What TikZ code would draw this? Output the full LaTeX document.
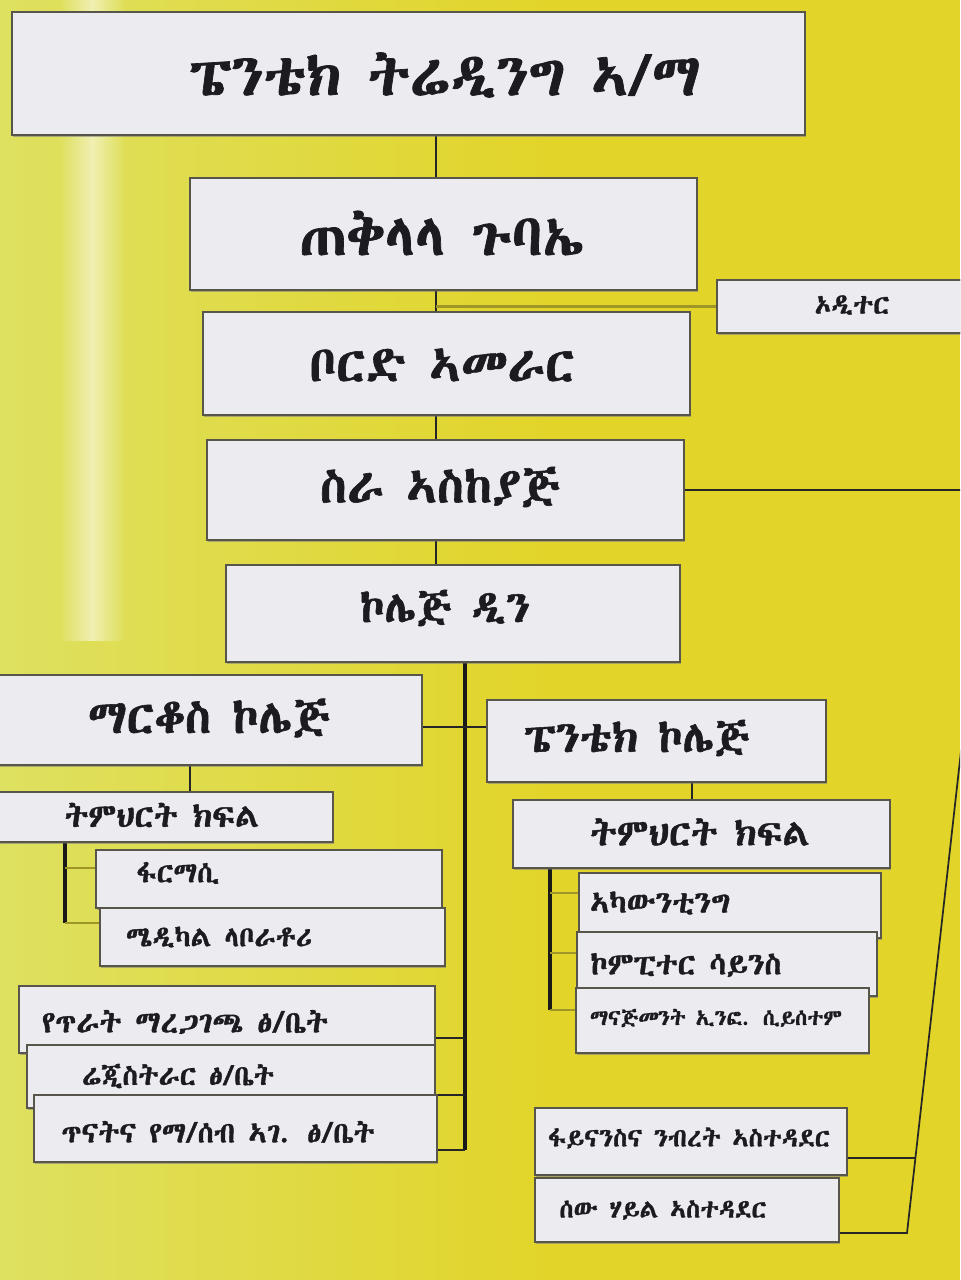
\documentclass[tikz,border=0pt]{standalone}
\usepackage{fontspec}
\usepackage{graphicx}
\IfFontExistsTF{Abyssinica SIL}
  {\newfontfamily\eth{Abyssinica SIL}[FakeBold=1.2]}
  {\IfFontExistsTF{FreeSerif.otf}
    {\newfontfamily\eth{FreeSerif.otf}[FakeBold=1.5]}
    {\newfontfamily\eth{DejaVu Sans}}}
\usetikzlibrary{shadows}
\definecolor{bgy}{RGB}{226,212,40}
\definecolor{bgpale}{RGB}{222,224,96}
\definecolor{boxfill}{RGB}{236,236,240}
\definecolor{boxline}{RGB}{88,86,74}
\definecolor{inkc}{RGB}{28,28,32}
\definecolor{faintl}{RGB}{160,150,40}
\newdimen\pxu \pxu=0.75pt
\newcommand\bx[5]{\node[box,anchor=north west,minimum width={(#4-#2)*0.75pt},minimum height={(#5-#3)*0.75pt}] (#1) at (#2,#3) {};}
\newcommand\tx[5]{\node[lbl] (#1) at (#2,#3) {\resizebox{#4\pxu}{!}{\eth #5}};}
\newcommand\allboxes{%
\bx{top}{12}{12}{805}{135}
\bx{ga}{190}{178}{697}{290}
\bx{board}{203}{312}{690}{415}
\bx{aud}{717}{280}{975}{333}
\bx{ceo}{207}{440}{684}{540}
\bx{dean}{226}{565}{680}{662}
\bx{mark}{-6}{675}{422}{765}
\bx{pcol}{487}{700}{826}{782}
\bx{edl}{-6}{792}{333}{842}
\bx{edr}{513}{800}{890}{868}
\bx{pha}{96}{850}{442}{908}
\bx{med}{100}{908}{445}{966}
\bx{acc}{579}{873}{881}{938}
\bx{comp}{577}{932}{877}{996}
\bx{mis}{576}{988}{869}{1053}
\bx{qa}{19}{986}{435}{1053}
\bx{reg}{27}{1045}{435}{1108}
\bx{res}{34}{1095}{437}{1162}
\bx{fin}{535}{1108}{847}{1175}
\bx{hr}{535}{1178}{839}{1242}}
\begin{document}
\begin{tikzpicture}[x=0.75pt,y=-0.75pt,
  box/.style={draw=boxline,line width=1.3pt,fill=boxfill,inner sep=0pt,outer sep=0pt,
    drop shadow={shadow xshift=0.8pt,shadow yshift=-1.2pt,opacity=0.35}},
  lbl/.style={inner sep=0pt,text=inkc},
  link/.style={draw=black!90,line width=2.6pt},
  thin/.style={draw=black!85,line width=1.3pt},
  faint/.style={draw=faintl,line width=1.6pt}]
\useasboundingbox (0,0) rectangle (960,1280);
\clip (0,0) rectangle (960,1280);
% background
\fill[bgy] (0,0) rectangle (960,1280);
\shade[left color=bgpale,right color=bgy] (0,0) rectangle (560,1280);
\shade[left color=bgpale,right color=white,opacity=0.55] (60,0) rectangle (92,640);
\shade[left color=white,right color=bgpale,opacity=0.55] (92,0) rectangle (124,640);

% named coordinates for connectors
\coordinate (sp) at (436,0);
\coordinate (r1) at (990,490);
\coordinate (r2) at (960,760);
\coordinate (r3) at (907,1233);
\coordinate (f1) at (916,1158);
\coordinate (ds) at (465,1150);
\coordinate (mc) at (465,727);
\coordinate (b1) at (465,1038);
\coordinate (b2) at (465,1095);
\coordinate (lm) at (190,0);
\coordinate (ls) at (65,923);
\coordinate (p1) at (65,868);
\coordinate (rm) at (692,0);
\coordinate (rs) at (550,1010);
\coordinate (a1) at (550,893);
\coordinate (a2) at (550,953);

% boxes (defined first so connectors can refer to them)
\allboxes

% connectors
\draw[thin] (top.south -| sp) -- (ga.north -| sp);
\draw[thin] (ga.south -| sp) -- (board.north -| sp);
\draw[faint] (sp |- aud.west) -- (aud.west);
\draw[thin] (board.south -| sp) -- (ceo.north -| sp);
\draw[thin] (ceo.south -| sp) -- (dean.north -| sp);
\draw[thin] (ceo.east) -- (r1) -- (r2) -- (r3) -- (hr.east |- r3);
\draw[thin] (fin.east |- f1) -- (f1);
\draw[link] (dean.south -| ds) -- (ds);
\draw[thin] (mark.east |- mc) -- (pcol.west |- mc);
\draw[thin] (qa.east |- b1) -- (b1);
\draw[thin] (reg.east |- b2) -- (b2);
\draw[thin] (res.east |- ds) -- (ds);
\draw[thin] (mark.south -| lm) -- (edl.north -| lm);
\draw[link] (edl.south -| ls) -- (ls);
\draw[faint] (p1) -- (pha.west |- p1);
\draw[faint] (ls) -- (med.west |- ls);
\draw[thin] (pcol.south -| rm) -- (edr.north -| rm);
\draw[link] (edr.south -| rs) -- (rs);
\draw[faint] (a1) -- (acc.west |- a1);
\draw[faint] (a2) -- (comp.west |- a2);
\draw[faint] (rs) -- (mis.west |- rs);

% boxes again, over the connector ends
\allboxes

% labels
\tx{ttop}{445}{75}{510}{ፔንቴክ ትሬዲንግ ኣ/ማ}
\tx{tga}{442}{233}{285}{ጠቅላላ ጉባኤ}
\tx{tboard}{442}{365}{265}{ቦርድ ኣመራር}
\tx{taud}{852}{305}{75}{ኦዲተር}
\tx{tceo}{440}{487}{240}{ስራ ኣስከያጅ}
\tx{tdean}{445}{608}{170}{ኮሌጅ ዲን}
\tx{tmark}{209}{718}{242}{ማርቆስ ኮሌጅ}
\tx{tpcol}{637}{738}{225}{ፔንቴክ ኮሌጅ}
\tx{tedl}{162}{815}{195}{ትምህርት ክፍል}
\tx{tedr}{700}{832}{220}{ትምህርት ክፍል}
\tx{tpha}{178}{873}{83}{ፋርማሲ}
\tx{tmed}{219}{937}{186}{ሜዲካል ላቦራቶሪ}
\tx{tacc}{660}{903}{140}{ኣካውንቲንግ}
\tx{tcomp}{686}{965}{191}{ኮምፒተር ሳይንስ}
\tx{tmis}{716}{1018}{252}{ማናጅመንት ኢንፎ. ሲይሰተም}
\tx{tqa}{185}{1022}{286}{የጥራት ማረጋገጫ ፅ/ቤት}
\tx{treg}{178}{1076}{192}{ሬጂስትራር ፅ/ቤት}
\tx{tres}{218}{1132}{313}{ጥናትና የማ/ሰብ ኣገ. ፅ/ቤት}
\tx{tfin}{689}{1138}{282}{ፋይናንስና ንብረት ኣስተዳደር}
\tx{thr}{663}{1210}{207}{ሰው ሃይል ኣስተዳደር}
\end{tikzpicture}
\end{document}
